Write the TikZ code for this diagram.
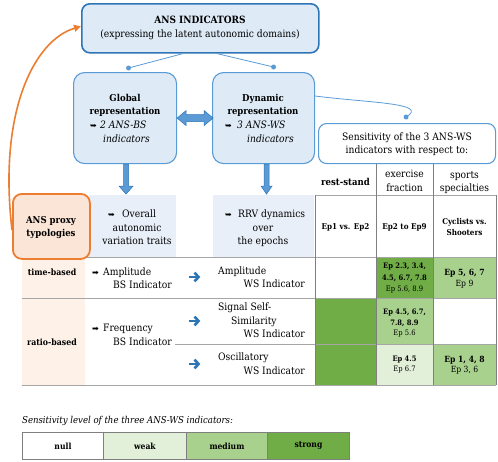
\documentclass[tikz,border=0pt]{standalone}
\usepackage{fontspec}
\setmainfont{DejaVu Serif Condensed}
\newfontfamily\symf{DejaVu Sans}
\usetikzlibrary{arrows.meta,calc}
\newcommand\fsz[2]{\fontsize{#1}{#2}\selectfont}
\definecolor{bluebd}{HTML}{5B9BD5}
\definecolor{bluedk}{HTML}{2E75B6}
\definecolor{bluefill}{HTML}{DEEBF7}
\definecolor{shade}{HTML}{E9EFF8}
\definecolor{orbd}{HTML}{ED7D31}
\definecolor{orfill}{HTML}{FBE5D6}
\definecolor{orcol}{HTML}{FDF1E8}
\definecolor{gstrong}{HTML}{70AD47}
\definecolor{gmed}{HTML}{A9D18E}
\definecolor{gweak}{HTML}{E2F0D9}
\definecolor{gridc}{HTML}{A6A6A6}
\definecolor{griddk}{HTML}{7F7F7F}
\definecolor{arrblue}{HTML}{2E75B6}
\begin{document}
\begin{tikzpicture}[x=1pt,y=-1pt,
  ansbox/.style={draw=bluedk, line width=1.6pt, fill=bluefill, rounded corners=8pt, inner sep=0pt, anchor=north west},
  repbox/.style={draw=bluebd, line width=1.1pt, fill=bluefill, rounded corners=11pt, inner sep=0pt, anchor=north west},
  sensbox/.style={draw=bluebd, line width=1.1pt, fill=white, rounded corners=8pt, inner sep=0pt, anchor=north west},
  orbox/.style={draw=orbd, line width=1.8pt, fill=orfill, rounded corners=9pt, inner sep=0pt, anchor=north west},
  shadebox/.style={fill=shade, inner sep=0pt, anchor=north west},
  legbox/.style={draw=griddk, line width=0.9pt, inner sep=0pt, anchor=north west, minimum height=27pt, font=\bfseries\fsz{8.5}{10}},
  conn/.style={draw=bluebd, line width=0.8pt},
  blockarr/.style={fill=bluebd, draw=bluedk, line width=0.5pt},
  gridl/.style={draw=gridc, line width=1pt},
  gridv/.style={draw=griddk, line width=0.9pt},
  t/.style={inner sep=0pt, anchor=base, font=\fsz{10.2}{13}},
  tb/.style={t, font=\bfseries\fsz{9.5}{13}},
  ti/.style={t, font=\itshape\fsz{10.2}{13}},
  hb/.style={t, font=\bfseries\fsz{8}{10}},
  c/.style={inner sep=0pt, anchor=base, font=\fsz{7.5}{9}},
  cb/.style={c, font=\bfseries\fsz{7.5}{9}},
  cs/.style={inner sep=0pt, anchor=base, font=\fsz{8.5}{10}},
  csb/.style={cs, font=\bfseries\fsz{8.5}{10}},
  sym/.style={inner sep=0pt, anchor=base west, font=\symf\fsz{8}{9}},
  barr/.style={draw=arrblue, line width=2.6pt}]
\useasboundingbox (0,0) rectangle (498,461);

% backgrounds
\fill[orcol] (22,257) rectangle (85,385);
\node[shadebox, minimum width=87pt, minimum height=62pt] (shA) at (89,195) {};
\node[shadebox, minimum width=101pt, minimum height=62pt] (shB) at (213,195) {};
\fill[gstrong] (376,257) rectangle (433,298);
\fill[gmed] (433,257) rectangle (496,298);
\fill[gstrong] (315,298) rectangle (376,385);
\fill[gmed] (376,298) rectangle (433,344);
\fill[gweak] (376,344) rectangle (433,385);
\fill[gmed] (433,344) rectangle (496,385);

% grid
\draw[gridl] (315,195) -- (496,195);
\draw[gridl] (22,257) -- (496,257);
\draw[gridl] (22,298) -- (496,298);
\draw[gridl] (175,344) -- (496,344);
\draw[gridl] (22,385) -- (496,385);
\draw[gridv] (315,195) -- (315,385);
\draw[gridv] (376,163) -- (376,385);
\draw[gridv] (433,163) -- (433,385);
\draw[gridv] (496,195) -- (496,385);

% boxes
\node[ansbox, minimum width=237pt, minimum height=49pt] (ans) at (81,3) {};
\node[repbox, minimum width=103pt, minimum height=91pt] (glob) at (73,72) {};
\node[repbox, minimum width=102pt, minimum height=91pt] (dyn) at (212,72) {};
\node[sensbox, minimum width=177pt, minimum height=40pt] (sens) at (318,123) {};
\node[orbox, minimum width=77pt, minimum height=65pt] (proxy) at (12,193) {};

% block arrows
\fill[blockarr] ($(glob.south)+(-1.5,0)$) -- ++(0,22) -- ++(-4.5,0) -- ++(7,8) -- ++(7,-8) -- ++(-4.5,0) -- ++(0,-22) -- cycle;
\fill[blockarr] ($(dyn.south)+(0.5,0)$) -- ++(0,22) -- ++(-3,0) -- ++(5.5,8) -- ++(5.5,-8) -- ++(-3,0) -- ++(0,-22) -- cycle;
\fill[blockarr] (glob.east) -- ++(9,-7.5) -- ++(0,4) -- ++(18,0) -- ++(0,-4) -- ++(9,7.5) -- ++(-9,7.5) -- ++(0,-4) -- ++(-18,0) -- ++(0,4) -- cycle;

% connectors
\coordinate (gdot) at ($(glob.north)+(3.5,-4)$);
\coordinate (ddot) at ($(dyn.north)+(10,-5)$);
\coordinate (sdot) at ($(sens.north)+(-1,-6)$);
\draw[conn] ($(ans.south west)+(102,0)$) -- (gdot);
\draw[conn] ($(ans.south west)+(136,0)$) -- (ddot);
\draw[conn] ($(dyn.north east)+(0,24)$) .. controls (370,103) and (430,103) .. (sdot);
\fill[bluebd] (gdot) circle (2.5pt);
\fill[bluebd] (ddot) circle (2.5pt);
\fill[bluebd] (sdot) circle (2.5pt);
\draw[orbd, line width=1.6pt, -{Triangle[length=7pt,width=7pt]}] ($(proxy.north west)+(0,37)$) .. controls (-2,110) and (35,40) .. ($(ans.west)+(0,-2)$);

% texts in boxes
\node[tb, font=\bfseries\fsz{10}{13}] (ansT1) at (200,23.3) {ANS INDICATORS};
\node[t] (ansT2) at (200,37) {(expressing the latent autonomic domains)};
\node[tb] (globT1) at (125,101.5) {Global};
\node[tb] (globT2) at (125,114) {representation};
\node[sym] (globS) at (90,128) {➥};
\node[ti, anchor=base west] (globT3) at (100,128) {2 ANS-BS};
\node[ti, anchor=base west] (globT4) at (103,142) {indicators};
\node[tb] (dynT1) at (263,101.5) {Dynamic};
\node[tb] (dynT2) at (263,114) {representation};
\node[sym] (dynS) at (225,128) {➥};
\node[ti, anchor=base west] (dynT3) at (237,128) {3 ANS-WS};
\node[ti, anchor=base west] (dynT4) at (247,142) {indicators};
\node[t] (sensT1) at (407,140) {Sensitivity of the 3 ANS-WS};
\node[t] (sensT2) at (407,153.5) {indicators with respect to:};
\node[tb] (proxT1) at (51,223.3) {ANS proxy};
\node[tb] (proxT2) at (51,236) {typologies};

% shaded column texts
\node[sym] (shAS) at (108,217.5) {➥};
\node[t, anchor=base west] (shAT1) at (122,217.5) {Overall};
\node[t] (shAT2) at (137,231) {autonomic};
\node[t] (shAT3) at (137,244.5) {variation traits};
\node[sym] (shBS) at (225,217.5) {➥};
\node[t, anchor=base west] (shBT1) at (238,217.5) {RRV dynamics};
\node[t] (shBT2) at (263,231) {over};
\node[t] (shBT3) at (263,244.5) {the epochs};

% headers
\node[tb] (hRest) at (345.5,185) {rest-stand};
\node[t] (hEx1) at (404.5,177.5) {exercise};
\node[t] (hEx2) at (404.5,191) {fraction};
\node[t] (hSp1) at (464.5,178) {sports};
\node[t] (hSp2) at (464.5,191) {specialties};
\node[hb] (ep1) at (345.5,229.3) {Ep1 vs. Ep2};
\node[hb] (ep2) at (404.5,229.3) {Ep2 to Ep9};
\node[hb] (ep3a) at (464.5,224) {Cyclists vs.};
\node[hb] (ep3b) at (464.5,235.5) {Shooters};

% rows
\node[tb, font=\bfseries\fsz{8.7}{12}] (rTime) at (52,275) {time-based};
\node[tb, font=\bfseries\fsz{8.7}{12}] (rRatio) at (52,345) {ratio-based};
\node[sym] (s1) at (92,275) {➡};
\node[t, anchor=base west] (bs1a) at (103,275) {Amplitude};
\node[t, anchor=base west] (bs1b) at (113,288.3) {BS Indicator};
\node[sym] (s2) at (92,331.7) {➡};
\node[t, anchor=base west] (bs2a) at (103,331.7) {Frequency};
\node[t, anchor=base west] (bs2b) at (113,345) {BS Indicator};
\coordinate (a1) at (194,277);
\coordinate (a2) at (194,321);
\coordinate (a3) at (194,364);
\foreach \p in {a1,a2,a3}{
  \draw[barr] ($(\p)+(-5,0)$) -- ($(\p)+(3,0)$);
  \draw[barr, line join=miter] ($(\p)+(0.5,-4.3)$) -- ($(\p)+(4.6,0)$) -- ($(\p)+(0.5,4.3)$);
}
\node[t, anchor=base west] (ws1a) at (218,274) {Amplitude};
\node[t, anchor=base east] (ws1b) at (305,287.3) {WS Indicator};
\node[t, anchor=base west] (ws2a) at (218,310.7) {Signal Self-};
\node[t, anchor=base west] (ws2b) at (231,324) {Similarity};
\node[t, anchor=base east] (ws2c) at (305,337.3) {WS Indicator};
\node[t, anchor=base west] (ws3a) at (218,360.7) {Oscillatory};
\node[t, anchor=base east] (ws3b) at (305,374) {WS Indicator};

% cells
\node[cb] (c1a) at (404.5,268.5) {Ep 2.3, 3.4,};
\node[cb] (c1b) at (404.5,280) {4.5, 6.7, 7.8};
\node[c] (c1c) at (404.5,291.7) {Ep 5.6, 8.9};
\node[csb] (c2a) at (464.5,275.7) {Ep 5, 6, 7};
\node[cs] (c2b) at (464.5,286.7) {Ep 9};
\node[cb] (c3a) at (404.5,314) {Ep 4.5, 6.7,};
\node[cb] (c3b) at (404.5,325) {7.8, 8.9};
\node[c] (c3c) at (404.5,335.5) {Ep 5.6};
\node[cb] (c4a) at (404.5,361.7) {Ep 4.5};
\node[c] (c4b) at (404.5,371.7) {Ep 6.7};
\node[csb] (c5a) at (464.5,362) {Ep 1, 4, 8};
\node[cs] (c5b) at (464.5,372) {Ep 3, 6};

% legend
\node[inner sep=0pt, anchor=base west, font=\itshape\fsz{9.5}{11}] (legT) at (22,423) {Sensitivity level of the three ANS-WS indicators:};
\node[legbox, fill=white, minimum width=81pt] (lnull) at (22,432) {null};
\node[legbox, fill=gweak, minimum width=83pt] (lweak) at (103,432) {weak};
\node[legbox, fill=gmed, minimum width=81pt] (lmed) at (186,432) {medium};
\node[legbox, fill=gstrong, minimum width=82pt] (lstr) at (267,432) {strong};
\end{tikzpicture}
\end{document}
